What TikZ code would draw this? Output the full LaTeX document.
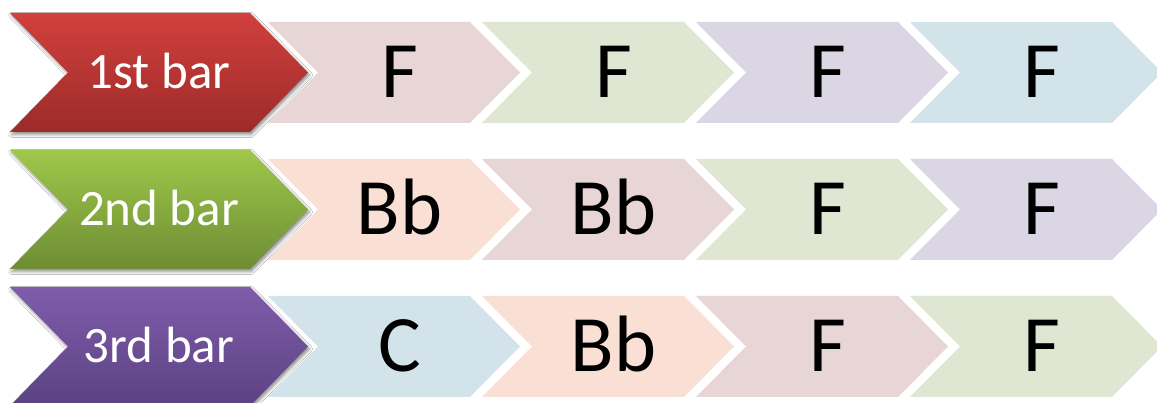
\documentclass[tikz,border=0pt]{standalone}
\usepackage{fontspec}
\setmainfont{Carlito}
\usetikzlibrary{shadows.blur}
\definecolor{cpink}{HTML}{E8D5D5}
\definecolor{cgreen}{HTML}{DFE7D3}
\definecolor{cpurple}{HTML}{DAD6E3}
\definecolor{cblue}{HTML}{D3E3EA}
\definecolor{cpeach}{HTML}{FADFD5}
\definecolor{redtop}{HTML}{D1403D}
\definecolor{redbot}{HTML}{9C2B29}
\definecolor{greentop}{HTML}{9FC84B}
\definecolor{greenbot}{HTML}{6E8C34}
\definecolor{purtop}{HTML}{805CAB}
\definecolor{purbot}{HTML}{5B4282}
\tikzset{
  chord/.style={font=\fontsize{80}{80}\selectfont, text=black, anchor=base, inner sep=0pt},
  barlabel/.style={font=\fontsize{51}{51}\selectfont, text=white, anchor=base, inner sep=0pt},
  bigshadow/.style={blur shadow={shadow xshift=1.5pt, shadow yshift=-2.5pt, shadow blur radius=3pt, shadow opacity=45}},
}
\newcommand\smallchevron[5]{%
  \fill[#3] (#1,#2+50.5) -- (#1+202,#2+50.5) -- (#1+252,#2) -- (#1+202,#2-50.5) -- (#1,#2-50.5) -- (#1+50,#2) -- cycle;
  \node[chord] (#5) at (#1+131.5,#2-25.3) {#4};
}
\newcommand\bigchevron[5]{%
  \path[bigshadow, top color=#3, bottom color=#4] (10,#1+59.5) -- (250,#1+59.5) -- (308,#1) -- (250,#1-59.5) -- (10,#1-59.5) -- (68,#1) -- cycle;
  \node[barlabel] (#5) at (159,#1-16) {#2};
}
\begin{document}
\begin{tikzpicture}[x=1pt,y=1pt]
\clip (0,0) rectangle (1157,403);
\fill[white] (0,0) rectangle (1157,403);
% row 1
\smallchevron{268}{330.5}{cpink}{F}{r1a}
\smallchevron{482}{330.5}{cgreen}{F}{r1b}
\smallchevron{696}{330.5}{cpurple}{F}{r1c}
\smallchevron{910}{330.5}{cblue}{F}{r1d}
\bigchevron{330.5}{1st bar}{redtop}{redbot}{l1}
% row 2
\smallchevron{268}{193.5}{cpeach}{Bb}{r2a}
\smallchevron{482}{193.5}{cpink}{Bb}{r2b}
\smallchevron{696}{193.5}{cgreen}{F}{r2c}
\smallchevron{910}{193.5}{cpurple}{F}{r2d}
\bigchevron{193.5}{2nd bar}{greentop}{greenbot}{l2}
% row 3
\smallchevron{268}{56.5}{cblue}{C}{r3a}
\smallchevron{482}{56.5}{cpeach}{Bb}{r3b}
\smallchevron{696}{56.5}{cpink}{F}{r3c}
\smallchevron{910}{56.5}{cgreen}{F}{r3d}
\bigchevron{56.5}{3rd bar}{purtop}{purbot}{l3}
\end{tikzpicture}
\end{document}
